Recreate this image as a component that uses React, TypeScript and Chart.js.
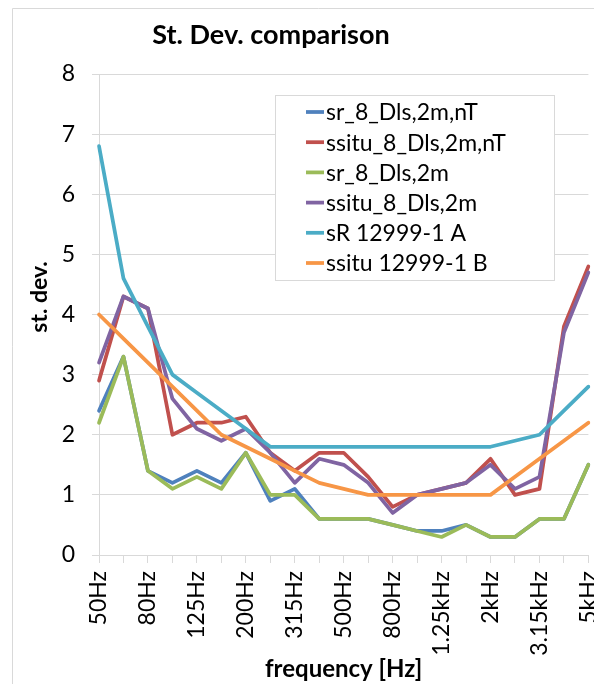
import React, { useEffect, useRef } from "react";
import { Chart, registerables } from "chart.js";

Chart.register(...registerables);

const frequencies = [
  "50Hz", "63Hz", "80Hz", "100Hz", "125Hz", "160Hz", "200Hz", "250Hz", "315Hz", "400Hz",
  "500Hz", "630Hz", "800Hz", "1kHz", "1.25kHz", "1.6kHz", "2kHz", "2.5kHz", "3.15kHz", "4kHz", "5kHz",
];

const seriesNames = [
  "sr_8_Dls,2m,nT",
  "ssitu_8_Dls,2m,nT",
  "sr_8_Dls,2m",
  "ssitu_8_Dls,2m",
  "sR 12999-1 A",
  "ssitu 12999-1 B",
];

const srDlsNT = [2.4, 3.3, 1.4, 1.2, 1.4, 1.2, 1.7, 0.9, 1.1, 0.6, 0.6, 0.6, 0.5, 0.4, 0.4, 0.5, 0.3, 0.3, 0.6, 0.6, 1.5];
const ssituDlsNT = [2.9, 4.3, 4.1, 2.0, 2.2, 2.2, 2.3, 1.7, 1.4, 1.7, 1.7, 1.3, 0.8, 1.0, 1.1, 1.2, 1.6, 1.0, 1.1, 3.8, 4.8];
const srDls = [2.2, 3.3, 1.4, 1.1, 1.3, 1.1, 1.7, 1.0, 1.0, 0.6, 0.6, 0.6, 0.5, 0.4, 0.3, 0.5, 0.3, 0.3, 0.6, 0.6, 1.5];
const ssituDls = [3.2, 4.3, 4.1, 2.6, 2.1, 1.9, 2.1, 1.7, 1.2, 1.6, 1.5, 1.2, 0.7, 1.0, 1.1, 1.2, 1.5, 1.1, 1.3, 3.7, 4.7];
const sR12999A = [6.8, 4.6, 3.8, 3.0, 2.7, 2.4, 2.1, 1.8, 1.8, 1.8, 1.8, 1.8, 1.8, 1.8, 1.8, 1.8, 1.8, 1.9, 2.0, 2.4, 2.8];
const ssitu12999B = [4.0, 3.6, 3.2, 2.8, 2.4, 2.0, 1.8, 1.6, 1.4, 1.2, 1.1, 1.0, 1.0, 1.0, 1.0, 1.0, 1.0, 1.3, 1.6, 1.9, 2.2];

const seriesValues = [srDlsNT, ssituDlsNT, srDls, ssituDls, sR12999A, ssitu12999B];
const seriesColors = ["#4F81BD", "#C0504D", "#9BBB59", "#8064A2", "#4BACC6", "#F79646"];

const chartTitle = "St. Dev. comparison";
const xTitle = "frequency [Hz]";
const yTitle = "st. dev.";

const FONT = "Lato, 'Liberation Sans', sans-serif";
const GRID = "#D9D9D9";

const overlayPlugin = {
  id: "overlay",
  beforeDraw(chart: any) {
    const ctx = chart.ctx;
    ctx.save();
    ctx.strokeStyle = GRID;
    ctx.lineWidth = 1;
    ctx.beginPath();
    ctx.moveTo(12.5, 2000);
    ctx.lineTo(12.5, 8.5);
    ctx.lineTo(2000, 8.5);
    ctx.stroke();
    ctx.restore();
  },
  afterDraw(chart: any) {
    const ctx = chart.ctx;
    ctx.save();
    // chart title
    ctx.fillStyle = "#000";
    ctx.font = `bold 27px ${FONT}`;
    ctx.textAlign = "center";
    ctx.textBaseline = "middle";
    ctx.fillText(chartTitle, 271, 35);
    // y axis title
    ctx.save();
    ctx.translate(40, 297);
    ctx.rotate(-Math.PI / 2);
    ctx.font = `bold 23px ${FONT}`;
    ctx.fillText(yTitle, 0, 0);
    ctx.restore();
    // legend
    const bx = 275.5, by = 95.5, bw = 279, bh = 185;
    ctx.fillStyle = "#fff";
    ctx.fillRect(bx, by, bw, bh);
    ctx.strokeStyle = GRID;
    ctx.lineWidth = 1;
    ctx.strokeRect(bx, by, bw, bh);
    ctx.font = `23px ${FONT}`;
    ctx.textAlign = "left";
    ctx.textBaseline = "middle";
    chart.data.datasets.forEach((ds: any, i: number) => {
      const y = 112 + i * 30.2;
      ctx.strokeStyle = ds.borderColor;
      ctx.lineWidth = 3.75;
      ctx.beginPath();
      ctx.moveTo(306, y);
      ctx.lineTo(324, y);
      ctx.stroke();
      ctx.fillStyle = "#000";
      ctx.fillText(ds.label, 326, y + 1);
    });
    ctx.restore();
  },
};

export default function App() {
  const ref = useRef<HTMLCanvasElement>(null);

  useEffect(() => {
    if (!ref.current) return;
    const chart = new Chart(ref.current, {
      type: "line",
      data: {
        labels: frequencies,
        datasets: seriesNames.map((name, i) => ({
          label: name,
          data: seriesValues[i],
          borderColor: seriesColors[i],
          backgroundColor: seriesColors[i],
          borderWidth: 3.75,
          pointRadius: 0,
          tension: 0,
          borderJoinStyle: "round" as const,
          borderCapStyle: "round" as const,
          order: seriesNames.length - i,
        })),
      },
      options: {
        animation: false,
        responsive: true,
        maintainAspectRatio: false,
        layout: { padding: { left: 12, top: 74, right: 29, bottom: 0 } },
        plugins: {
          legend: { display: false },
          title: { display: false },
          tooltip: { enabled: false },
        },
        scales: {
          x: {
            afterFit: (s: any) => {
              s.height = 129;
            },
            grid: { drawOnChartArea: false, drawTicks: true, tickLength: 8, color: GRID },
            border: { color: GRID },
            ticks: {
              autoSkip: false,
              minRotation: 90,
              maxRotation: 90,
              padding: 8,
              color: "#000",
              font: { family: FONT, size: 23 },
              callback: (_v: any, idx: number) => (idx % 2 === 0 ? frequencies[idx] : ""),
            },
            title: {
              display: true,
              text: xTitle,
              color: "#000",
              font: { family: FONT, size: 24, weight: "bold" },
              padding: { top: 5, bottom: 0 },
            },
          },
          y: {
            min: 0,
            max: 8,
            afterFit: (s: any) => {
              s.width = 87;
            },
            grid: { color: GRID, tickLength: 7 },
            border: { color: GRID },
            ticks: {
              stepSize: 1,
              padding: 17,
              color: "#000",
              font: { family: FONT, size: 23 },
            },
            title: { display: false },
          },
        },
      },
      plugins: [overlayPlugin],
    });
    return () => chart.destroy();
  }, []);

  return (
    <div style={{ position: "absolute", left: 0, top: 0, width: 594, height: 684, overflow: "hidden", background: "#fff" }}>
      <div style={{ position: "relative", width: 624, height: 684 }}>
        <canvas ref={ref} />
      </div>
    </div>
  );
}
